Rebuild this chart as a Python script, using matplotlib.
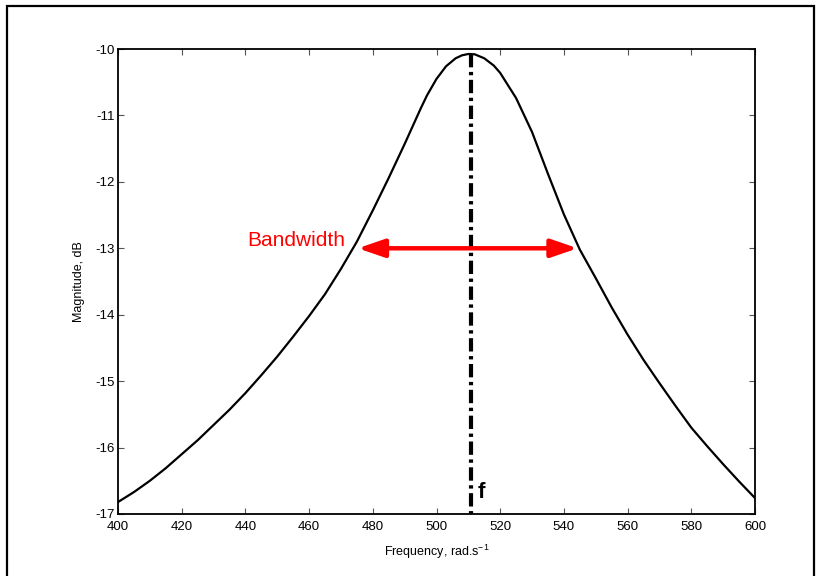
import numpy as np
import matplotlib.pyplot as plt
from matplotlib.patches import Rectangle

# ---------------------------------------------
# Data (frequency response)
# ---------------------------------------------
freq = [400, 405, 410, 415, 420, 425, 430, 435, 440, 445, 450, 455, 460,
        465, 470, 475, 480, 485, 490, 495, 497, 500, 503, 506, 508, 510,
        512, 515, 518, 520, 525, 530, 535, 540, 545, 550, 555, 560, 565,
        570, 575, 580, 585, 590, 595, 600]
mag_db = [-16.82, -16.67, -16.50, -16.31, -16.10, -15.89, -15.66, -15.43,
          -15.18, -14.91, -14.63, -14.33, -14.02, -13.69, -13.31, -12.90,
          -12.43, -11.94, -11.43, -10.90, -10.70, -10.45, -10.26, -10.14,
          -10.095, -10.075, -10.08, -10.14, -10.25, -10.36, -10.74, -11.25,
          -11.88, -12.49, -13.02, -13.45, -13.89, -14.30, -14.68, -15.03,
          -15.37, -15.70, -15.98, -16.25, -16.51, -16.76]

f_centre = 510.8
bw_left, bw_right, bw_level = 475.3, 544.3, -13.0

xticks = list(range(400, 601, 20))
yticks = list(range(-17, -9))

plt.rcParams['font.family'] = ['Liberation Sans', 'DejaVu Sans']
plt.rcParams['axes.unicode_minus'] = False

fig = plt.figure(figsize=(8.2, 5.76), dpi=100)
ax = fig.add_axes([118 / 820, 1 - 514 / 576, 637 / 820, 465 / 576])

# curve
ax.plot(freq, mag_db, color='black', linewidth=1.6, solid_joinstyle='round')

# centre frequency line
ax.plot([f_centre, f_centre], [-10.08, -17], color='black', linewidth=3.0,
        dashes=(3.2, 1.1, 0.8, 1.1), solid_capstyle='butt')
ax.text(512.9, -16.76, 'f', fontsize=16, fontweight='bold', color='black',
        ha='left', va='baseline')

# bandwidth arrow
ax.annotate('', xy=(bw_right, bw_level), xytext=(bw_left, bw_level),
            arrowprops=dict(arrowstyle='<|-|>,head_length=16,head_width=5.5',
                            mutation_scale=1, color='red', linewidth=3.2,
                            shrinkA=0, shrinkB=0))
ax.text(bw_left - 4.0, -12.97, 'Bandwidth', color='red', fontsize=15,
        ha='right', va='baseline')

ax.set_xlim(400, 600)
ax.set_ylim(-17, -10)
ax.set_xticks(xticks)
ax.set_yticks(yticks)
ax.tick_params(direction='in', top=True, right=True, length=4, width=0.8,
               color='#555555', labelsize=9.5)
ax.tick_params(axis='x', pad=5)
ax.tick_params(axis='y', pad=2)
for s in ax.spines.values():
    s.set_linewidth(1.3)

ax.set_xlabel(r'Frequency, rad.s$^{\mathregular{-1}}$', fontsize=9, labelpad=7)
ax.set_ylabel('Magnitude, dB', fontsize=9, labelpad=8)

# outer frame of the figure
fig.patches.append(Rectangle((7 / 820, -0.1), 807 / 820, 1.1 - 6 / 576,
                             transform=fig.transFigure, fill=False,
                             edgecolor='black', linewidth=1.6))

fig.savefig('out.png', dpi=100)
